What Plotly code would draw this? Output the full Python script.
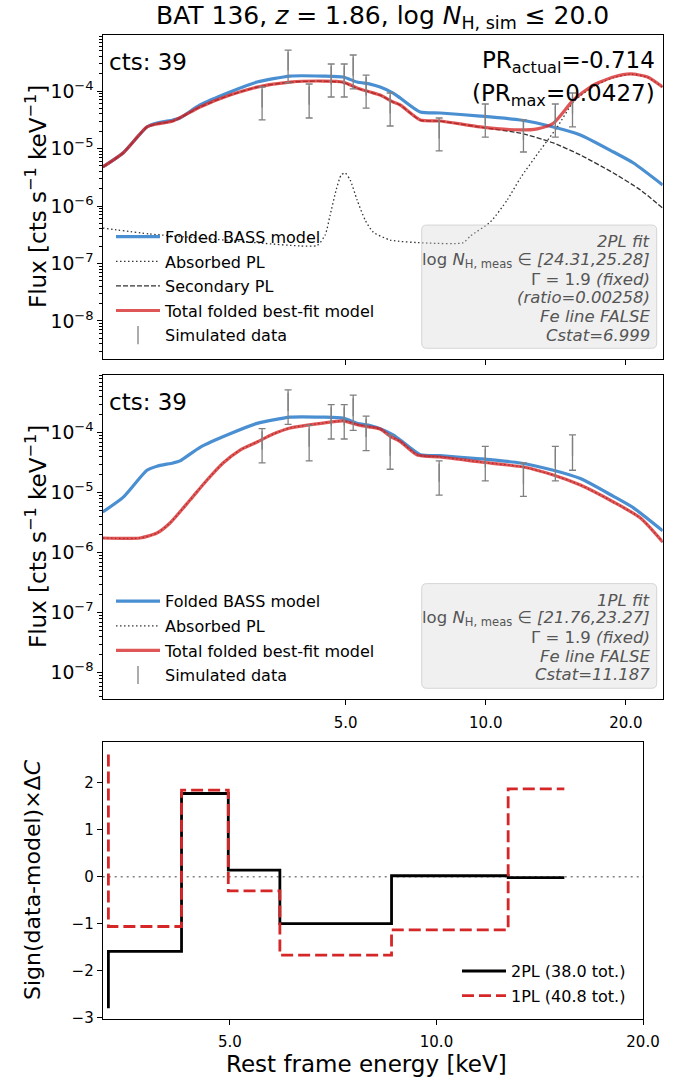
import math
import plotly.graph_objects as go

W, H = 689, 1081

# ---------------- data ----------------
tick_vals = [5.0, 10.0, 20.0]
tick_text = ["5.0", "10.0", "20.0"]

# Folded BASS model (same in both spectral panels)
E_bass = [1.503, 1.662, 1.871, 1.966, 2.128, 2.203, 2.433, 2.822, 3.226, 3.799, 4.473, 4.939,
          5.292, 5.644, 5.931, 6.325, 6.550, 7.232, 7.983, 9.734, 11.87, 13.97, 15.97, 18.81,
          20.77, 24.0]
F_bass = [4.77e-6, 8.35e-6, 2.37e-5, 2.77e-5, 3.13e-5, 3.39e-5, 5.71e-5, 9.6e-5, 1.43e-4, 1.82e-4,
          1.82e-4, 1.75e-4, 1.43e-4, 1.32e-4, 1.17e-4, 9.2e-5, 7.55e-5, 4.31e-5, 4.14e-5, 3.67e-5,
          3.13e-5, 2.37e-5, 1.72e-5, 8.7e-6, 5.6e-6, 2.32e-6]

# 2PL fit components
E_tot2 = [1.503, 1.662, 1.871, 1.966, 2.128, 2.433, 2.822, 3.226, 3.799, 4.473, 4.939, 5.292,
          5.644, 5.931, 6.325, 6.550, 7.232, 7.983, 9.734, 11.87, 12.91, 13.97, 15.43, 17.03,
          18.81, 20.46, 22.26, 24.0]
F_tot2 = [4.77e-6, 8.35e-6, 2.37e-5, 2.67e-5, 3.01e-5, 5.27e-5, 8.5e-5, 1.17e-4, 1.43e-4, 1.49e-4,
          1.43e-4, 1.13e-4, 9.6e-5, 8.5e-5, 6.44e-5, 5.71e-5, 3.13e-5, 3.01e-5, 2.37e-5, 2.1e-5,
          2.2e-5, 2.75e-5, 6.97e-5, 1.27e-4, 1.75e-4, 1.98e-4, 1.75e-4, 1.17e-4]

E_sec2 = [1.503, 1.662, 1.871, 1.966, 2.128, 2.433, 2.822, 3.226, 3.799, 4.473, 4.939, 5.292,
          5.644, 5.931, 6.325, 6.550, 7.232, 7.983, 9.734, 11.87, 13.97, 15.97, 18.81, 21.50, 24.0]
F_sec2 = [4.73e-6, 8.3e-6, 2.35e-5, 2.65e-5, 2.98e-5, 5.24e-5, 8.47e-5, 1.167e-4, 1.427e-4, 1.487e-4,
          1.40e-4, 1.12e-4, 9.55e-5, 8.47e-5, 6.42e-5, 5.69e-5, 3.11e-5, 2.99e-5, 2.35e-5, 1.85e-5,
          1.25e-5, 7.7e-6, 3.75e-6, 1.9e-6, 9.2e-7]

E_abs2 = [1.503, 1.899, 2.433, 3.274, 3.993, 4.342, 4.518, 4.631, 4.771, 4.891, 4.988, 5.113,
          5.292, 5.506, 5.728, 6.232, 7.488, 8.948, 9.265, 10.23, 11.12, 11.87, 13.10, 14.25,
          15.43, 17.03, 18.81, 20.46, 22.26, 24.0]
F_abs2 = [4.14e-7, 3.26e-7, 2.77e-7, 2.27e-7, 2.02e-7, 2.06e-7, 3.13e-7, 6.97e-7, 1.9e-6, 3.46e-6,
          3.75e-6, 2.83e-6, 1.27e-6, 5.71e-7, 3.53e-7, 2.56e-7, 2.27e-7, 2.3e-7, 3.0e-7, 5.27e-7,
          1.27e-6, 3.07e-6, 9.4e-6, 2.37e-5, 6.44e-5, 1.2e-4, 1.71e-4, 1.96e-4, 1.73e-4, 1.16e-4]

# 1PL fit (absorbed PL == total)
E_tot1 = [1.503, 1.807, 1.966, 2.097, 2.315, 2.519, 2.727, 2.966, 3.226, 3.493, 3.799, 4.473,
          4.939, 5.292, 5.561, 5.931, 6.232, 6.550, 7.125, 7.983, 9.734, 12.05, 13.97, 15.97,
          18.81, 21.50, 24.0]
F_tot1 = [1.76e-6, 1.76e-6, 2.13e-6, 3.13e-6, 7.55e-6, 1.63e-5, 3.13e-5, 5.15e-5, 7.0e-5, 9.5e-5,
          1.2e-4, 1.45e-4, 1.57e-4, 1.36e-4, 1.26e-4, 1.15e-4, 8.7e-5, 7.1e-5, 4.25e-5, 3.94e-5,
          3.25e-5, 2.68e-5, 1.97e-5, 1.34e-5, 7.0e-6, 3.79e-6, 1.51e-6]

# simulated data
E_data = [3.307, 3.761, 4.174, 4.655, 4.965, 5.190, 5.533, 6.232, 7.942, 9.977, 12.05, 14.11, 15.36]
F_data = [7.44e-5, 3.27e-4, 8.31e-5, 1.868e-4, 1.868e-4, 2.66e-4, 1.2e-4, 5.85e-5, 2.15e-5,
          3.76e-5, 2.0e-5, 3.76e-5, 5.8e-5]
F_err = [4.3e-5, 1.89e-4, 4.92e-5, 1.082e-4, 1.082e-4, 1.57e-4, 6.96e-5, 3.39e-5, 1.24e-5,
         2.18e-5, 1.13e-5, 2.18e-5, 3.43e-5]

# residual panel
E_step = [3.325, 4.25, 4.972, 5.912, 8.60, 12.72, 15.36]
dC_2pl = [-2.80, -1.59, 1.77, 0.14, -1.00, 0.02, -0.02]
dC_1pl = [2.60, -1.06, 1.84, -0.30, -1.67, -1.13, 1.87]

# ---------------- helpers (layout only) ----------------
def PX(p):
    return p / W

def PY(p):
    return 1 - p / H

FONT = "DejaVu Sans"
BLUE = "#4a8fd1"
RED = "rgba(214,39,40,0.78)"
GRAY = "#808080"
TXT = "#555555"

fig = go.Figure()

# ---- top panel ----
fig.add_trace(go.Scatter(x=E_bass, y=F_bass, mode="lines", name="Folded BASS model",
                         line=dict(color=BLUE, width=3.2, shape="spline", smoothing=0.6),
                         xaxis="x", yaxis="y", legend="legend", legendgroup="a1"))
fig.add_trace(go.Scatter(x=E_abs2, y=F_abs2, mode="lines", name="Absorbed PL",
                         line=dict(color="#333333", width=1.3, dash="1.5px,2.5px", shape="spline", smoothing=0.6),
                         xaxis="x", yaxis="y", legend="legend", legendgroup="a2"))
fig.add_trace(go.Scatter(x=E_sec2, y=F_sec2, mode="lines", name="Secondary PL",
                         line=dict(color="#333333", width=1.3, dash="5px,2px", shape="spline", smoothing=0.6),
                         xaxis="x", yaxis="y", legend="legend", legendgroup="a3"))
fig.add_trace(go.Scatter(x=E_tot2, y=F_tot2, mode="lines", name="Total folded best-fit model",
                         line=dict(color=RED, width=3.2, shape="spline", smoothing=0.6),
                         xaxis="x", yaxis="y", legend="legend", legendgroup="a4"))
fig.add_trace(go.Scatter(x=E_data, y=F_data, mode="markers", name="Simulated data",
                         marker=dict(symbol="line-ns-open", size=13, color=GRAY,
                                     line=dict(color=GRAY, width=1.3)),
                         error_y=dict(type="data", array=F_err, color=GRAY, thickness=1.3, width=3.5),
                         xaxis="x", yaxis="y", legend="legend", legendgroup="a5"))

# ---- middle panel ----
fig.add_trace(go.Scatter(x=E_bass, y=F_bass, mode="lines", name="Folded BASS model",
                         line=dict(color=BLUE, width=3.2, shape="spline", smoothing=0.6),
                         xaxis="x2", yaxis="y2", legend="legend2", legendgroup="b1"))
fig.add_trace(go.Scatter(x=E_tot1, y=F_tot1, mode="lines", name="Absorbed PL",
                         line=dict(color="#333333", width=1.3, dash="1.5px,2.5px", shape="spline", smoothing=0.6),
                         xaxis="x2", yaxis="y2", legend="legend2", legendgroup="b2"))
fig.add_trace(go.Scatter(x=E_tot1, y=F_tot1, mode="lines", name="Total folded best-fit model",
                         line=dict(color=RED, width=3.2, shape="spline", smoothing=0.6),
                         xaxis="x2", yaxis="y2", legend="legend2", legendgroup="b3"))
fig.add_trace(go.Scatter(x=E_data, y=F_data, mode="markers", name="Simulated data",
                         marker=dict(symbol="line-ns-open", size=13, color=GRAY,
                                     line=dict(color=GRAY, width=1.3)),
                         error_y=dict(type="data", array=F_err, color=GRAY, thickness=1.3, width=3.5),
                         xaxis="x2", yaxis="y2", legend="legend2", legendgroup="b4"))

# ---- bottom panel ----
fig.add_trace(go.Scatter(x=E_step, y=dC_2pl, mode="lines", name="2PL (38.0 tot.)",
                         line=dict(color="black", width=2.8, shape="vh"),
                         xaxis="x3", yaxis="y3", legend="legend3", legendgroup="c1"))
fig.add_trace(go.Scatter(x=E_step, y=dC_1pl, mode="lines", name="1PL (40.8 tot.)",
                         line=dict(color="#d62728", width=2.8, shape="vh", dash="12px,5px"),
                         xaxis="x3", yaxis="y3", legend="legend3", legendgroup="c2"))

axis_common = dict(showline=True, linecolor="black", linewidth=1, mirror=True, showgrid=False,
                   zeroline=False, ticks="outside", ticklen=5, tickwidth=1, tickcolor="black",
                   automargin=False,
                   tickfont=dict(family=FONT, size=15, color="black"))

logy_common = dict(axis_common, type="log", dtick=1, exponentformat="power",
                   minor=dict(ticks="outside", ticklen=2.5, tickwidth=0.8, tickcolor="black",
                              dtick="D1", showgrid=False))

x_top = [102.7, 662.7]
top_y = [35, 359]
mid_y = [375, 699]
bot_x = [102.7, 643]
bot_y = [742, 1019]

leg_font = dict(family=FONT, size=16, color="black")
leg_common = dict(xanchor="left", yanchor="top", bgcolor="rgba(0,0,0,0)", font=leg_font,
                  itemwidth=44, traceorder="grouped", tracegroupgap=0.8)

fig.update_layout(
    width=W, height=H, autosize=False,
    margin=dict(l=0, r=0, t=0, b=0, pad=0),
    paper_bgcolor="white", plot_bgcolor="white",
    font=dict(family=FONT, color="black"),
    xaxis=dict(axis_common, domain=[PX(x_top[0]), PX(x_top[1])], type="log",
               range=[math.log10(1.503), math.log10(24.0)], tickvals=tick_vals, ticktext=tick_text,
               showticklabels=False, anchor="y"),
    yaxis=dict(logy_common, domain=[PY(top_y[1]), PY(top_y[0])], range=[-8.661, -3.026], anchor="x"),
    xaxis2=dict(axis_common, domain=[PX(x_top[0]), PX(x_top[1])], type="log",
                range=[math.log10(1.503), math.log10(24.0)], tickvals=tick_vals, ticktext=tick_text,
                ticklabelstandoff=5, anchor="y2"),
    yaxis2=dict(logy_common, domain=[PY(mid_y[1]), PY(mid_y[0])], range=[-8.438, -3.038], anchor="x2"),
    xaxis3=dict(axis_common, domain=[PX(bot_x[0]), PX(bot_x[1])], type="log",
                range=[math.log10(3.262), math.log10(20.0)], tickvals=tick_vals, ticktext=tick_text,
                ticklabelstandoff=4, anchor="y3"),
    yaxis3=dict(axis_common, domain=[PY(bot_y[1]), PY(bot_y[0])], range=[-3.028, 2.866],
                dtick=1, tick0=0, anchor="x3"),
    legend=dict(leg_common, x=PX(111), y=PY(219.8)),
    legend2=dict(leg_common, x=PX(111), y=PY(584.3)),
    legend3=dict(leg_common, x=PX(457), y=PY(954.1)),
    showlegend=True,
)

def rrect(px0, py0, px1, py1, r=5):
    pts = (f"M {PX(px0 + r)},{PY(py0)} L {PX(px1 - r)},{PY(py0)} "
           f"Q {PX(px1)},{PY(py0)} {PX(px1)},{PY(py0 + r)} "
           f"L {PX(px1)},{PY(py1 - r)} Q {PX(px1)},{PY(py1)} {PX(px1 - r)},{PY(py1)} "
           f"L {PX(px0 + r)},{PY(py1)} Q {PX(px0)},{PY(py1)} {PX(px0)},{PY(py1 - r)} "
           f"L {PX(px0)},{PY(py0 + r)} Q {PX(px0)},{PY(py0)} {PX(px0 + r)},{PY(py0)} Z")
    return pts

shapes = [
    dict(type="path", xref="paper", yref="paper", path=rrect(421.7, 225, 656.7, 348.3),
         fillcolor="rgba(211,211,211,0.35)", line=dict(color="rgba(200,200,200,0.7)", width=1),
         layer="above"),
    dict(type="path", xref="paper", yref="paper", path=rrect(421.7, 583.6, 656.7, 688.3),
         fillcolor="rgba(211,211,211,0.35)", line=dict(color="rgba(200,200,200,0.7)", width=1),
         layer="above"),
    dict(type="line", xref="x3 domain", yref="y3", x0=0, x1=1, y0=0, y1=0,
         line=dict(color=GRAY, width=1.5, dash="2px,4px"), layer="below"),
]
fig.update_layout(shapes=shapes)

ann = []

def add_text(text, px, py, size, xanchor="center", color="black", angle=0):
    ann.append(dict(text=text, x=PX(px), y=PY(py), xref="paper", yref="paper", showarrow=False,
                    xanchor=xanchor, yanchor="middle", textangle=angle,
                    font=dict(family=FONT, size=size, color=color)))

add_text("BAT 136, <i>z</i> = 1.86, log <i>N</i><sub>H, sim</sub> ≤ 20.0", 382.7, 17, 25)
add_text("cts: 39", 107, 61.7, 23, xanchor="left")
add_text("cts: 39", 107, 401.7, 23, xanchor="left")
add_text("PR<sub>actual</sub>=-0.714", 657, 61.7, 23, xanchor="right")
add_text("(PR<sub>max</sub>=0.0427)", 657, 95, 23, xanchor="right")

box_top = ["<i>2PL fit</i>",
           "log <i>N</i><sub>H, meas</sub> ∈ <i>[24.31,25.28]</i>",
           "Γ = 1.9 <i>(fixed)</i>",
           "<i>(ratio=0.00258)</i>",
           "<i>Fe line FALSE</i>",
           "<i>Cstat=6.999</i>"]
for i, t in enumerate(box_top):
    add_text(t, 651.7, 241.7 + 18.67 * i, 16.5, xanchor="right", color=TXT)

box_mid = ["<i>1PL fit</i>",
           "log <i>N</i><sub>H, meas</sub> ∈ <i>[21.76,23.27]</i>",
           "Γ = 1.9 <i>(fixed)</i>",
           "<i>Fe line FALSE</i>",
           "<i>Cstat=11.187</i>"]
for i, t in enumerate(box_mid):
    add_text(t, 651.7, 600.3 + 18.67 * i, 16.5, xanchor="right", color=TXT)

add_text("Flux [cts s<sup>−1</sup> keV<sup>−1</sup>]", 36, 197, 23, angle=-90)
add_text("Flux [cts s<sup>−1</sup> keV<sup>−1</sup>]", 36, 537, 23, angle=-90)
add_text("Sign(data-model)×Δ<i>C</i>", 32, 880, 22, angle=-90)
add_text("Rest frame energy [keV]", 366, 1064, 23)

fig.update_layout(annotations=ann)

fig.write_html("out.html")
